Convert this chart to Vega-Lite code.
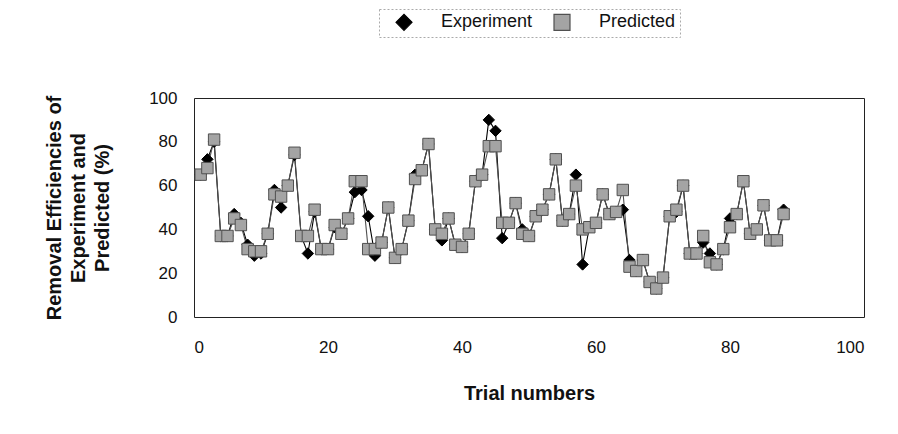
{
  "$schema": "https://vega.github.io/schema/vega-lite/v6.json",
  "autosize": {"type": "none"},
  "padding": {"left": 194, "top": 98, "right": 34, "bottom": 117},
  "width": 670,
  "height": 219,
  "background": "white",
  "data": {
    "values": [
      {"trial": 1, "Experiment": 65, "Predicted": 65},
      {"trial": 2, "Experiment": 72, "Predicted": 68},
      {"trial": 3, "Experiment": 80, "Predicted": 81},
      {"trial": 4, "Experiment": 37, "Predicted": 37},
      {"trial": 5, "Experiment": 37, "Predicted": 37},
      {"trial": 6, "Experiment": 47, "Predicted": 45},
      {"trial": 7, "Experiment": 43, "Predicted": 42},
      {"trial": 8, "Experiment": 33, "Predicted": 31},
      {"trial": 9, "Experiment": 28, "Predicted": 30},
      {"trial": 10, "Experiment": 29, "Predicted": 30},
      {"trial": 11, "Experiment": 38, "Predicted": 38},
      {"trial": 12, "Experiment": 58, "Predicted": 56},
      {"trial": 13, "Experiment": 50, "Predicted": 55},
      {"trial": 14, "Experiment": 60, "Predicted": 60},
      {"trial": 15, "Experiment": 74, "Predicted": 75},
      {"trial": 16, "Experiment": 37, "Predicted": 37},
      {"trial": 17, "Experiment": 29, "Predicted": 37},
      {"trial": 18, "Experiment": 48, "Predicted": 49},
      {"trial": 19, "Experiment": 31, "Predicted": 31},
      {"trial": 20, "Experiment": 31, "Predicted": 31},
      {"trial": 21, "Experiment": 41, "Predicted": 42},
      {"trial": 22, "Experiment": 38, "Predicted": 38},
      {"trial": 23, "Experiment": 45, "Predicted": 45},
      {"trial": 24, "Experiment": 57, "Predicted": 62},
      {"trial": 25, "Experiment": 58, "Predicted": 62},
      {"trial": 26, "Experiment": 46, "Predicted": 31},
      {"trial": 27, "Experiment": 28, "Predicted": 31},
      {"trial": 28, "Experiment": 34, "Predicted": 34},
      {"trial": 29, "Experiment": 50, "Predicted": 50},
      {"trial": 30, "Experiment": 27, "Predicted": 27},
      {"trial": 31, "Experiment": 31, "Predicted": 31},
      {"trial": 32, "Experiment": 44, "Predicted": 44},
      {"trial": 33, "Experiment": 65, "Predicted": 63},
      {"trial": 34, "Experiment": 67, "Predicted": 67},
      {"trial": 35, "Experiment": 79, "Predicted": 79},
      {"trial": 36, "Experiment": 40, "Predicted": 40},
      {"trial": 37, "Experiment": 35, "Predicted": 38},
      {"trial": 38, "Experiment": 45, "Predicted": 45},
      {"trial": 39, "Experiment": 33, "Predicted": 33},
      {"trial": 40, "Experiment": 32, "Predicted": 32},
      {"trial": 41, "Experiment": 38, "Predicted": 38},
      {"trial": 42, "Experiment": 62, "Predicted": 62},
      {"trial": 43, "Experiment": 65, "Predicted": 65},
      {"trial": 44, "Experiment": 90, "Predicted": 78},
      {"trial": 45, "Experiment": 85, "Predicted": 78},
      {"trial": 46, "Experiment": 36, "Predicted": 43},
      {"trial": 47, "Experiment": 43, "Predicted": 43},
      {"trial": 48, "Experiment": 52, "Predicted": 52},
      {"trial": 49, "Experiment": 40, "Predicted": 38},
      {"trial": 50, "Experiment": 37, "Predicted": 37},
      {"trial": 51, "Experiment": 46, "Predicted": 46},
      {"trial": 52, "Experiment": 49, "Predicted": 49},
      {"trial": 53, "Experiment": 56, "Predicted": 56},
      {"trial": 54, "Experiment": 72, "Predicted": 72},
      {"trial": 55, "Experiment": 44, "Predicted": 44},
      {"trial": 56, "Experiment": 47, "Predicted": 47},
      {"trial": 57, "Experiment": 65, "Predicted": 60},
      {"trial": 58, "Experiment": 24, "Predicted": 40},
      {"trial": 59, "Experiment": 41, "Predicted": 41},
      {"trial": 60, "Experiment": 43, "Predicted": 43},
      {"trial": 61, "Experiment": 56, "Predicted": 56},
      {"trial": 62, "Experiment": 47, "Predicted": 47},
      {"trial": 63, "Experiment": 48, "Predicted": 48},
      {"trial": 64, "Experiment": 49, "Predicted": 58},
      {"trial": 65, "Experiment": 26, "Predicted": 23},
      {"trial": 66, "Experiment": 21, "Predicted": 21},
      {"trial": 67, "Experiment": 26, "Predicted": 26},
      {"trial": 68, "Experiment": 16, "Predicted": 16},
      {"trial": 69, "Experiment": 13, "Predicted": 13},
      {"trial": 70, "Experiment": 18, "Predicted": 18},
      {"trial": 71, "Experiment": 46, "Predicted": 46},
      {"trial": 72, "Experiment": 48, "Predicted": 49},
      {"trial": 73, "Experiment": 60, "Predicted": 60},
      {"trial": 74, "Experiment": 29, "Predicted": 29},
      {"trial": 75, "Experiment": 29, "Predicted": 29},
      {"trial": 76, "Experiment": 34, "Predicted": 37},
      {"trial": 77, "Experiment": 29, "Predicted": 25},
      {"trial": 78, "Experiment": 24, "Predicted": 24},
      {"trial": 79, "Experiment": 31, "Predicted": 31},
      {"trial": 80, "Experiment": 45, "Predicted": 41},
      {"trial": 81, "Experiment": 47, "Predicted": 47},
      {"trial": 82, "Experiment": 62, "Predicted": 62},
      {"trial": 83, "Experiment": 38, "Predicted": 38},
      {"trial": 84, "Experiment": 40, "Predicted": 40},
      {"trial": 85, "Experiment": 51, "Predicted": 51},
      {"trial": 86, "Experiment": 35, "Predicted": 35},
      {"trial": 87, "Experiment": 35, "Predicted": 35},
      {"trial": 88, "Experiment": 49, "Predicted": 47}
    ]
  },
  "transform": [
    {"fold": ["Experiment", "Predicted"], "as": ["series", "value"]}
  ],
  "encoding": {
    "x": {
      "field": "trial", "type": "quantitative",
      "scale": {"domain": [0, 100], "nice": false, "zero": false},
      "axis": {"values": [0, 20, 40, 60, 80, 100], "title": "Trial numbers", "labelPadding": 22, "titlePadding": 28}
    },
    "y": {
      "field": "value", "type": "quantitative",
      "scale": {"domain": [0, 100], "nice": false},
      "axis": {"values": [0, 20, 40, 60, 80, 100], "title": ["Removal Efficiencies of", "Experiment and", "Predicted (%)"], "labelPadding": 17, "titlePadding": 36, "titleLineHeight": 24}
    },
    "stroke": {
      "field": "series", "type": "nominal",
      "scale": {"domain": ["Experiment", "Predicted"], "range": ["#000000", "#505050"]},
      "legend": {
        "encode": {
          "legend": {"update": {"strokeDash": {"value": [2, 2]}}},
          "symbols": {
            "enter": {"shape": {"signal": "datum.value === 'Experiment' ? 'M-2.5,0L2.5,0M0,-0.55L0.55,0L0,0.55L-0.55,0Z' : 'M-2.5,0L-0.75,0M0.75,0L2.5,0M-0.75,-0.75L0.75,-0.75L0.75,0.75L-0.75,0.75Z'"}},
            "update": {"shape": {"signal": "datum.value === 'Experiment' ? 'M-2.5,0L2.5,0M0,-0.55L0.55,0L0,0.55L-0.55,0Z' : 'M-2.5,0L-0.75,0M0.75,0L2.5,0M-0.75,-0.75L0.75,-0.75L0.75,0.75L-0.75,0.75Z'"}}
          }
        }
      }
    }
  },
  "layer": [
    {
      "mark": {"type": "line", "strokeWidth": 1.1}
    },
    {
      "mark": {"type": "point", "filled": true, "opacity": 1, "strokeWidth": 1, "size": 130},
      "encoding": {
        "shape": {
          "field": "series", "type": "nominal",
          "scale": {"domain": ["Experiment", "Predicted"], "range": ["diamond", "square"]},
          "legend": {
            "encode": {
              "legend": {"update": {"strokeDash": {"value": [2, 2]}}},
              "symbols": {
                "enter": {"shape": {"signal": "datum.value === 'Experiment' ? 'M-2.5,0L2.5,0M0,-0.55L0.55,0L0,0.55L-0.55,0Z' : 'M-2.5,0L-0.75,0M0.75,0L2.5,0M-0.75,-0.75L0.75,-0.75L0.75,0.75L-0.75,0.75Z'"}},
                "update": {"shape": {"signal": "datum.value === 'Experiment' ? 'M-2.5,0L2.5,0M0,-0.55L0.55,0L0,0.55L-0.55,0Z' : 'M-2.5,0L-0.75,0M0.75,0L2.5,0M-0.75,-0.75L0.75,-0.75L0.75,0.75L-0.75,0.75Z'"}}
              }
            }
          }
        },
        "fill": {
          "field": "series", "type": "nominal",
          "scale": {"domain": ["Experiment", "Predicted"], "range": ["#000000", "#a4a4a4"]},
          "legend": {
            "encode": {
              "legend": {"update": {"strokeDash": {"value": [2, 2]}}},
              "symbols": {
                "enter": {"shape": {"signal": "datum.value === 'Experiment' ? 'M-2.5,0L2.5,0M0,-0.55L0.55,0L0,0.55L-0.55,0Z' : 'M-2.5,0L-0.75,0M0.75,0L2.5,0M-0.75,-0.75L0.75,-0.75L0.75,0.75L-0.75,0.75Z'"}},
                "update": {"shape": {"signal": "datum.value === 'Experiment' ? 'M-2.5,0L2.5,0M0,-0.55L0.55,0L0,0.55L-0.55,0Z' : 'M-2.5,0L-0.75,0M0.75,0L2.5,0M-0.75,-0.75L0.75,-0.75L0.75,0.75L-0.75,0.75Z'"}}
              }
            }
          }
        },
        "order": {"field": "series", "sort": "ascending"}
      }
    }
  ],
  "config": {
    "font": "Liberation Sans",
    "view": {"stroke": "#222222", "strokeWidth": 1},
    "axis": {
      "labelFont": "Liberation Sans", "labelFontSize": 17, "labelColor": "#111111",
      "titleFont": "Liberation Sans", "titleFontSize": 20, "titleFontWeight": "bold", "titleColor": "#111111",
      "grid": false, "domain": false, "ticks": false
    },
    "legend": {
      "orient": "top", "direction": "horizontal", "title": null,
      "layout": {"top": {"anchor": "middle"}},
      "offset": 61,
      "labelFont": "Liberation Sans", "labelFontSize": 18, "labelColor": "#111111",
      "symbolSize": 256, "symbolOffset": 12, "labelOffset": 28, "columnPadding": 8,
      "padding": 4, "strokeColor": "#aaaaaa",
      "symbolStrokeWidth": 1.2
    }
  }
}
